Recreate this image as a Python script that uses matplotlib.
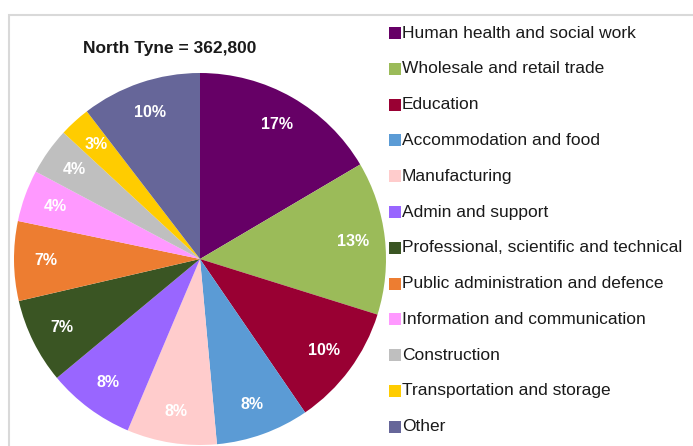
import matplotlib
matplotlib.use("Agg")
import matplotlib.pyplot as plt
from matplotlib.patches import Rectangle

# Employment by industry, North Tyne (share of total)
sectors = ['Human health and social work', 'Wholesale and retail trade', 'Education',
           'Accommodation and food', 'Manufacturing', 'Admin and support',
           'Professional, scientific and technical', 'Public administration and defence',
           'Information and communication', 'Construction', 'Transportation and storage',
           'Other']
shares = [16.5, 13.3, 10.6, 8.1, 7.8, 7.6, 7.4, 6.9, 4.5, 4.1, 2.7, 10.4]
pct_labels = ['17%', '13%', '10%', '8%', '8%', '8%', '7%', '7%', '4%', '4%', '3%', '10%']
colours = ['#660066', '#9BBB59', '#990033', '#5B9BD5', '#FFCCCC', '#9966FF',
           '#3A5523', '#ED7D31', '#FF99FF', '#BFBFBF', '#FFCC00', '#666699']
title = 'North Tyne = 362,800'

W, H = 693, 446
fig = plt.figure(figsize=(W / 100, H / 100), dpi=100)
font = 'Liberation Sans'

# light grey frame, cut off at right and bottom
fig.add_artist(Rectangle((9 / W, -0.1), 1.2, (H - 15) / H + 0.1, transform=fig.transFigure,
                         fill=False, edgecolor='#D9D9D9', linewidth=1.5))

# pie axes, centred at (200, 259) px with radius 186 px
cx, cy, r = 200, 259, 186
ax = fig.add_axes([(cx - r) / W, (H - cy - r) / H, 2 * r / W, 2 * r / H])
wedges, _ = ax.pie(shares, colors=colours, startangle=90, counterclock=False,
                   radius=1, wedgeprops=dict(linewidth=0))
ax.set_xlim(-1, 1)
ax.set_ylim(-1, 1)
ax.set_aspect('equal')
ax.axis('off')

import numpy as np
total = sum(shares)
start = 90.0
for w, lab in zip(wedges, pct_labels):
    mid = np.deg2rad((w.theta1 + w.theta2) / 2)
    ax.text(0.83 * np.cos(mid), 0.83 * np.sin(mid), lab, ha='center', va='center',
            color='white', fontsize=11.5, fontweight='bold', family=font)

fig.text(170 / W, (H - 49) / H, title, ha='center', va='center', fontsize=12.5,
         fontweight='bold', family=font, color='#1a1a1a')

# legend drawn by hand, one row per sector
row0, step = 33, 35.8
for i, (name, col) in enumerate(zip(sectors, colours)):
    y = row0 + i * step
    fig.add_artist(Rectangle((389 / W, (H - y - 6) / H), 12 / W, 12 / H,
                             transform=fig.transFigure, facecolor=col, edgecolor='none'))
    fig.text(402 / W, (H - y) / H, name, ha='left', va='center', fontsize=12.5,
             family=font, color='#1a1a1a')

fig.savefig('out.png', dpi=100)
